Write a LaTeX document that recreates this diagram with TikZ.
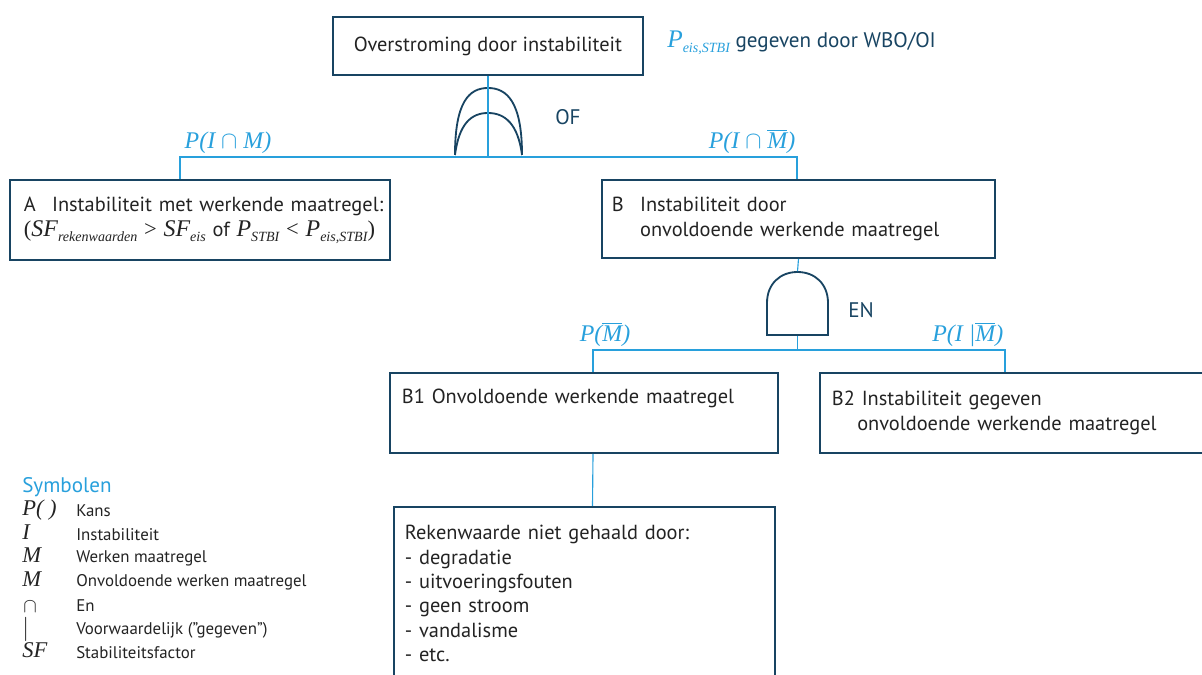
\documentclass[tikz,border=0pt]{standalone}
\usepackage{fontspec}
\setmainfont{PT Sans}
\newfontfamily\tmsfam{Liberation Serif}
\usetikzlibrary{positioning}

\definecolor{boxblue}{RGB}{24,68,98}
\definecolor{wireblue}{RGB}{40,160,220}
\definecolor{txtgray}{RGB}{35,35,35}

\newcommand{\symsub}[2]{{\tmsfam\itshape #1\raisebox{-0.45ex}{\fontsize{10}{10}\selectfont #2}}}
\newcommand{\mbar}{$\overline{\mbox{M}}$}

\begin{document}
\begin{tikzpicture}[x=0.025cm, y=-0.025cm]

% definitions
\tikzstyle{event} = [rectangle, draw=boxblue, line width=1.4pt, text=txtgray, align=left, inner ysep=0pt, font=\fontsize{14.5}{17.8}\selectfont]

\tikzstyle{gatebox} = [rectangle, draw=none, minimum width=1.6cm, minimum height=1.6cm, inner sep=0pt]

\tikzstyle{prob} = [text=wireblue, inner sep=1pt, font=\fontsize{17}{17}\selectfont\tmsfam\itshape]

\tikzstyle{gatename} = [text=boxblue, inner sep=0pt, font=\fontsize{15}{15}\selectfont]

\tikzstyle{symb} = [anchor=west, inner sep=0pt, text height=8pt, text depth=0pt, text=txtgray, font=\fontsize{16}{16}\selectfont\tmsfam\itshape]

\tikzstyle{symbtext} = [anchor=west, inner sep=0pt, text=txtgray, font=\fontsize{12}{12}\selectfont]

\tikzstyle{wire} = [draw=wireblue, line width=0.8pt]

\tikzstyle{gate} = [draw=boxblue, line width=1.3pt]

\useasboundingbox (0,0) rectangle (1202,675);

% the graph
\node (top) [event, align=center, minimum width=7.75cm, minimum height=1.45cm] at (488,46) {Overstroming door instabiliteit};

\node (eis) [anchor=west, text=boxblue, inner sep=0pt, font=\fontsize{15}{15}\selectfont] at (667,43) {{\color{wireblue}\fontsize{18}{18}\selectfont\symsub{P}{eis,STBI}}\ gegeven door WBO/OI};

\node (orgate) [gatebox] at (488,121) {};
\node (of) [gatename, anchor=west] at (555,117) {OF};

\node (a) [event, text width=8.8cm, inner xsep=0.35cm, minimum height=2cm] at (200,220) {\mbox{\makebox[20pt][l]{A}Instabiliteit met werkende maatregel:}\\{\tmsfam\fontsize{16}{16}\selectfont(}\symsub{\fontsize{17}{17}\selectfont SF}{rekenwaarden}{\tmsfam\fontsize{16}{16}\selectfont\ >\ }\symsub{\fontsize{17}{17}\selectfont SF}{eis} of \symsub{\fontsize{17}{17}\selectfont P}{STBI}{\tmsfam\fontsize{16}{16}\selectfont\ <\ }\symsub{\fontsize{17}{17}\selectfont P}{eis,STBI}{\tmsfam\fontsize{16}{16}\selectfont)}};

\node (b) [event, text width=9.325cm, inner xsep=0.25cm, minimum height=1.95cm] at (798.5,219) {\makebox[20pt][l]{B}Instabiliteit door\\\hspace*{20pt}onvoldoende werkende maatregel};

\node (andgate) [gatebox] at (797.5,303.5) {};
\node (en) [gatename, anchor=west] at (848,310) {EN};

\node (b1) [event, text width=9.1cm, inner xsep=0.3cm, minimum height=2cm] at (584,413) {B1 Onvoldoende werkende maatregel\\\strut};

\node (b2) [event, text width=9.0cm, inner xsep=0.3cm, minimum height=2cm] at (1012,413) {B2 Instabiliteit gegeven\\\hspace*{18pt}onvoldoende werkende maatregel};

\node (c) [event, text width=8.975cm, inner xsep=0.275cm, minimum height=4.325cm, font=\fontsize{14.5}{17.3}\selectfont] at (584.5,593.5) {Rekenwaarde niet gehaald door:\\- degradatie\\- uitvoeringsfouten\\- geen stroom\\- vandalisme\\- etc.};

% gates
\draw [gate] (455,155) .. controls (455,102) and (469,88) .. (488,88) .. controls (507,88) and (522,102) .. (522,155);
\draw [gate] (455,155) .. controls (459,124) and (471,113) .. (488,113) .. controls (505,113) and (518,124) .. (522,155);
\draw [gate] (767,335) -- (767,303) .. controls (767,284) and (780,272) .. (797.5,272) .. controls (815,272) and (828,284) .. (828,303) -- (828,335) -- cycle;

% connections
\coordinate (j1) at (488,157);
\coordinate (j2) at (797.5,350);
\draw [wire] (top.south) -- (j1);
\draw [wire] ([xshift=-0.5cm]a.north) |- (j1) -| ([xshift=-0.0375cm]b.north);
\draw [wire] (b.south) -- (andgate.north);
\draw [wire] (andgate.south) -- (j2);
\draw [wire] ([xshift=0.225cm]b1.north) |- (j2) -| ([xshift=-0.175cm]b2.north);
\draw [wire] ([xshift=0.225cm]b1.south) -- ([xshift=0.2cm]c.north);

% probabilities
\node (pim) [prob, anchor=south west] at (183,155) {P(I $\cap$ M)};
\node (pimbar) [prob, anchor=south east] at (797,155) {P(I $\cap$ \mbar)};
\node (pmbar) [prob, anchor=south] at (605,348) {P(\mbar)};
\node (pimcond) [prob, anchor=south east] at (1005,348) {P(I |\mbar)};

% legend
\node (symbolen) [anchor=west, inner sep=0pt, text=wireblue, font=\fontsize{15}{15}\selectfont] at (22,487) {Symbolen};
\node (s1) [symb] at (22,510) {P( )};
\node (t1) [symbtext] at (76,511) {Kans};
\node (s2) [symb] at (22,534) {I};
\node (t2) [symbtext] at (76,535) {Instabiliteit};
\node (s3) [symb] at (22,557) {M};
\node (t3) [symbtext] at (76,558) {Werken maatregel};
\node (s4) [symb] at (22,581) {M};
\node (t4) [symbtext] at (76,582) {Onvoldoende werken maatregel};
\node (s5) [symb, font=\fontsize{14}{14}\selectfont] at (23,607) {$\cap$};
\node (t5) [symbtext] at (76,606) {En};
\node (s6) [symb, font=\fontsize{16}{16}\selectfont] at (22,630) {$|$};
\node (t6) [symbtext] at (76,630) {Voorwaardelijk (”gegeven”)};
\node (s7) [symb] at (22,652) {SF};
\node (t7) [symbtext] at (76,653) {Stabiliteitsfactor};

\end{tikzpicture}
\end{document}
